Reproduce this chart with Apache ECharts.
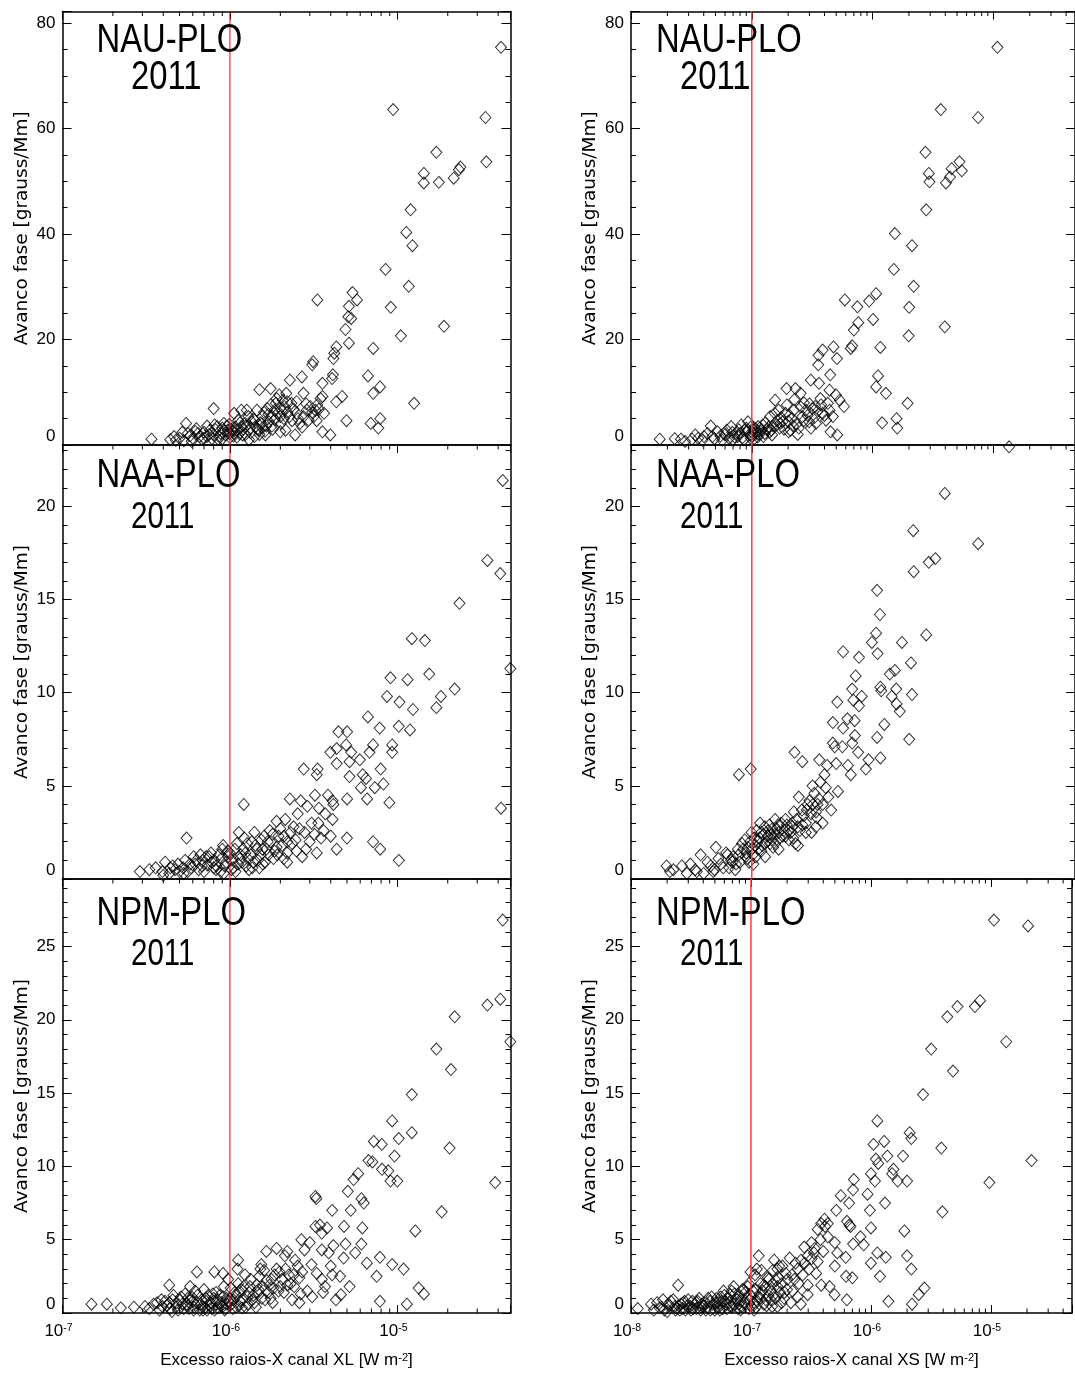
<!DOCTYPE html>
<html><head><meta charset="utf-8">
<script src="https://cdn.jsdelivr.net/npm/echarts@6/dist/echarts.min.js"></script>
<style>html,body{margin:0;padding:0;background:#fff}#c{width:1075px;height:1373px}</style>
</head><body><div id="c"></div><script>
// ---------------- data ----------------
const stations = ['NAU-PLO', 'NAA-PLO', 'NPM-PLO'];
const yearLabel = '2011';
const yName = 'Avanco fase [grauss/Mm]';
const xNames = ['Excesso raios-X canal XL [W m{s|-2}]', 'Excesso raios-X canal XS [W m{s|-2}]'];
const yMax = [82.2, 23.3, 29.6];
const yMajor = [20, 5, 5];
const yMinor = [5, 1, 1];
const xMin = [1e-7, 1e-8];
const xMax = 4.74e-5;
const thresholds = [1e-6, 1e-7];
const minorMultipliers = [2, 3, 4, 5, 6, 7, 8, 9];

const nauXL = [[4.16e-5,75.4],[9.44e-6,63.6],[3.36e-5,62.1],[1.71e-5,55.5],[3.4e-5,53.7],[1.44e-5,51.5],[1.44e-5,49.7],[1.77e-5,49.8],[2.17e-5,50.6],[2.33e-5,52.2],[2.38e-5,52.7],[1.2e-5,44.6],[1.13e-5,40.3],[1.23e-5,37.8],[8.5e-6,33.3],[1.17e-5,30.1],[9.14e-6,26.1],[1.9e-5,22.5],[1.05e-5,20.7],[3.33e-6,27.5],[5.4e-6,28.9],[5.74e-6,27.5],[5.14e-6,26.3],[5.09e-6,24.3],[5.3e-6,24.0],[4.9e-6,21.9],[5.14e-6,19.3],[4.32e-6,18.6],[4.2e-6,17.4],[4.15e-6,16.4],[7.18e-6,18.3],[6.68e-6,13.1],[7.88e-6,11.0],[7.18e-6,9.8],[1.26e-5,7.9],[7.9e-6,5.0],[6.93e-6,4.1],[7.7e-6,3.2],[4.97e-6,4.6],[4.68e-6,9.2],[4.32e-6,8.2],[4.12e-6,13.3],[4.08e-6,12.6],[3.57e-6,11.7],[3.57e-6,9.2],[3.57e-6,2.5],[3.98e-6,1.9],[3.14e-6,15.8],[3.1e-6,15.2],[2.69e-6,12.9],[2.28e-6,12.3],[2.75e-6,9.8],[2.5e-6,8.2],[2.45e-6,1.9],[2.15e-6,2.8],[1.75e-6,10.7],[1.5e-6,10.5],[8.0e-7,6.9],[5.47e-7,4.1],[3.4e-7,1.1],[4.64e-7,1.6],[7.3e-7,3.6],[5.6e-7,2.2],[6.45e-7,2.2],[6.6e-7,1.6],[7.6e-7,2.8],[8.4e-7,3.5],[8.8e-7,2.2],[9.2e-7,4.1],[9.7e-7,2.8],[1.06e-6,2.2],[1.12e-6,4.7],[1.17e-6,3.5],[1.23e-6,4.1],[1.26e-6,6.6],[1.35e-6,4.4],[1.42e-6,3.5],[1.45e-6,6.6],[1.48e-6,2.8],[1.56e-6,5.4],[1.63e-6,1.9],[1.67e-6,6.9],[1.71e-6,4.4],[1.79e-6,5.4],[1.88e-6,7.9],[1.93e-6,6.0],[1.97e-6,9.5],[2.02e-6,4.1],[2.07e-6,8.5],[2.12e-6,7.3],[2.17e-6,9.8],[2.27e-6,5.4],[2.33e-6,7.9],[2.5e-6,6.0],[2.62e-6,4.1],[2.75e-6,5.4],[2.88e-6,6.6],[2.95e-6,4.7],[3.02e-6,7.3],[3.17e-6,5.4],[3.24e-6,6.6],[3.32e-6,7.6],[3.48e-6,8.8],[3.65e-6,6.0],[1.06e-6,6.0],[1.17e-6,6.6],[1.29e-6,5.4],[1.56e-6,3.2],[9.9e-7,2.2],[7.3e-7,1.6],[8.0e-7,1.9],[6.0e-7,1.3],[4.75e-7,0.9],[1.1e-6,1.5],[1.3e-6,1.0],[9.0e-7,1.2],[1.5e-6,2.0],[1.8e-6,3.0],[2.0e-6,2.5],
[5.0e-7,1.3],[5.3e-7,0.8],[5.8e-7,1.8],[6.2e-7,2.6],[6.8e-7,1.1],[7.0e-7,2.4],[7.8e-7,1.2],[8.2e-7,2.9],[8.6e-7,1.6],[9.0e-7,3.2],[9.4e-7,1.9],[9.6e-7,3.6],[1.0e-6,1.4],[1.02e-6,3.0],[1.04e-6,2.6],[1.08e-6,3.4],[1.14e-6,2.2],[1.2e-6,3.0],[1.24e-6,2.0],[1.32e-6,3.2],[1.38e-6,5.0],[1.4e-6,1.6],[1.52e-6,4.2],[1.6e-6,6.2],[1.65e-6,3.6],[1.75e-6,7.6],[1.85e-6,4.8],[1.9e-6,8.8],[2.0e-6,7.0],[2.05e-6,6.4],[2.1e-6,5.0],[2.2e-6,8.2],[2.4e-6,6.8],[2.55e-6,5.0],[2.7e-6,3.4],[2.85e-6,7.8],[3.1e-6,6.2],[3.3e-6,4.6],[3.4e-6,6.8],
[4.4e-7,1.0],[5.2e-7,2.4],[5.9e-7,0.7],[6.3e-7,3.1],[7.0e-7,1.3],[7.5e-7,2.0],[8.1e-7,3.8],[8.5e-7,1.1],[9.3e-7,2.7],[9.9e-7,3.9],[1.05e-6,1.7],[1.1e-6,2.8],[1.15e-6,4.2],[1.19e-6,1.9],[1.25e-6,3.6],[1.33e-6,2.3],[1.4e-6,4.8],[1.46e-6,3.0],[1.55e-6,4.0],[1.62e-6,2.6],[1.7e-6,5.8],[1.78e-6,3.6],[1.85e-6,6.6],[2.0e-6,5.4],[2.2e-6,6.2],[2.35e-6,4.6]];

const nauXS = [[1.08e-5,75.4],[3.67e-6,63.6],[7.48e-6,62.1],[2.74e-6,55.5],[2.92e-6,51.5],[2.96e-6,49.9],[4.05e-6,49.7],[4.37e-6,50.8],[4.51e-6,52.4],[5.24e-6,53.7],[5.48e-6,52.0],[2.78e-6,44.6],[1.53e-6,40.1],[2.12e-6,37.8],[1.5e-6,33.3],[2.19e-6,30.1],[2.01e-6,26.1],[3.96e-6,22.4],[1.99e-6,20.7],[5.89e-7,27.5],[7.48e-7,26.2],[9.37e-7,27.3],[1.07e-6,28.7],[1.01e-6,23.8],[7.62e-7,23.2],[7.0e-7,21.8],[6.78e-7,18.8],[6.6e-7,18.3],[1.16e-6,18.5],[1.11e-6,13.1],[1.07e-6,11.0],[1.29e-6,9.8],[1.95e-6,7.9],[1.2e-6,4.2],[1.58e-6,5.0],[1.6e-6,3.2],[4.75e-7,18.6],[5.07e-7,16.4],[3.86e-7,18.0],[3.57e-7,17.0],[3.55e-7,15.2],[3.6e-7,11.7],[4.46e-7,13.3],[4.4e-7,10.4],[3.08e-7,12.3],[1.94e-7,10.7],[2.3e-7,10.7],[2.54e-7,9.8],[1.56e-7,8.5],[4.97e-7,9.5],[5.8e-7,7.3],[4.49e-7,2.5],[5.1e-7,1.9],[4.12e-7,4.7],[3.35e-7,7.3],[3.75e-7,7.6],[2.02e-7,2.5],[2.45e-7,3.2],[3.08e-7,3.2],[1.73e-8,1.1],[2.59e-8,1.1],[3.2e-8,1.1],[4.57e-8,3.6],[4.02e-8,1.6],[5.2e-8,2.5],[6.74e-8,3.5],[8.18e-8,3.8],[9.31e-8,4.4],[5.92e-8,2.2],[7.43e-8,2.2],[8.73e-8,2.8],[1.03e-7,2.8],[1.13e-7,3.5],[1.25e-7,1.6],[1.42e-7,5.4],[1.47e-7,1.9],[1.67e-7,6.6],[1.72e-7,4.1],[1.9e-7,6.0],[2.09e-7,2.8],[2.23e-7,6.6],[2.62e-7,5.4],[2.8e-7,6.6],[2.98e-7,4.4],[3.18e-7,6.9],[3.4e-7,4.1],[3.86e-7,6.0],[4.26e-7,7.9],[4.69e-7,5.4],[5.34e-7,8.5],[4.72e-8,1.6],[7.67e-8,1.6],[9.94e-8,1.6],[3.6e-8,1.3],[6.5e-8,1.3],[1.1e-7,2.2],[1.35e-7,3.0],[1.6e-7,3.8],[2.0e-7,4.5],[2.4e-7,2.0],[2.7e-7,8.0],
[5.5e-8,1.7],[6.2e-8,2.8],[7.0e-8,1.0],[7.8e-8,2.9],[8.4e-8,1.4],[9.0e-8,3.2],[9.6e-8,2.0],[1.0e-7,3.6],[1.05e-7,1.2],[1.08e-7,2.5],[1.15e-7,2.0],[1.2e-7,3.0],[1.3e-7,4.2],[1.4e-7,2.4],[1.5e-7,3.6],[1.55e-7,6.0],[1.75e-7,5.2],[1.85e-7,3.0],[1.95e-7,7.6],[2.15e-7,5.0],[2.25e-7,8.6],[2.35e-7,4.0],[2.55e-7,7.2],[2.7e-7,4.6],[2.9e-7,5.6],[3.0e-7,7.8],[3.3e-7,5.2],[3.5e-7,6.4],[3.7e-7,8.8],[4.0e-7,5.6],[4.4e-7,6.6],
[2.3e-8,1.2],[2.8e-8,0.7],[3.4e-8,1.9],[3.9e-8,0.9],[4.3e-8,2.2],[4.9e-8,1.2],[5.7e-8,0.9],[6.0e-8,1.9],[6.9e-8,2.4],[7.2e-8,1.5],[8.0e-8,2.2],[8.6e-8,1.0],[9.2e-8,2.6],[9.8e-8,1.3],[1.02e-7,2.2],[1.06e-7,3.2],[1.12e-7,1.5],[1.18e-7,2.6],[1.23e-7,3.8],[1.28e-7,2.2],[1.38e-7,3.4],[1.45e-7,2.8],[1.62e-7,4.6],[1.7e-7,3.2],[1.8e-7,4.4],[2.05e-7,5.6],[2.2e-7,3.6]];

const naaXL = [[4.26e-5,21.4],[3.45e-5,17.1],[4.12e-5,16.4],[2.35e-5,14.8],[1.22e-5,12.9],[1.46e-5,12.8],[1.55e-5,11.0],[9.1e-6,10.8],[1.15e-5,10.7],[2.2e-5,10.2],[8.67e-6,9.8],[1.82e-5,9.8],[1.03e-5,9.5],[1.24e-5,9.1],[1.71e-5,9.2],[1.02e-5,8.2],[1.19e-5,8.0],[6.67e-6,8.7],[7.84e-6,8.1],[4.45e-6,7.9],[5.01e-6,7.9],[9.31e-6,7.2],[9.31e-6,6.8],[7.16e-6,7.2],[4.34e-6,7.0],[3.98e-6,6.8],[4.94e-6,7.2],[5.3e-6,6.8],[6.82e-6,6.8],[5.97e-6,6.4],[5.18e-6,6.3],[4.34e-6,6.2],[6.21e-6,5.6],[5.18e-6,5.5],[7.95e-6,5.9],[6.5e-6,5.4],[6.06e-6,4.9],[7.33e-6,4.9],[8.26e-6,5.1],[6.6e-6,4.3],[5.01e-6,4.3],[8.96e-6,4.1],[2.76e-6,5.9],[3.34e-6,5.9],[3.3e-6,5.6],[2.28e-6,4.3],[2.65e-6,4.2],[3.22e-6,4.5],[3.85e-6,4.5],[4.1e-6,4.2],[4.15e-6,4.0],[4.1e-6,3.2],[4.0e-6,2.3],[5.0e-6,2.2],[4.34e-6,1.6],[7.16e-6,2.0],[7.9e-6,1.6],[1.02e-5,1.0],[4.16e-5,3.8],[3.3e-6,1.4],[2.7e-6,1.2],[3.5e-6,2.2],[3.07e-6,3.0],[2.9e-6,3.9],[2.54e-6,3.5],[2.4e-6,2.8],[2.2e-6,0.9],[1.9e-6,3.1],[1.73e-6,2.6],[1.21e-6,4.0],[5.51e-7,2.2],[2.9e-7,0.4],[3.3e-7,0.5],[3.95e-7,0.4],[4.55e-7,0.7],[5.01e-7,0.4],[5.78e-7,0.8],[6.67e-7,1.3],[7.33e-7,0.75],[8.07e-7,1.0],[9.1e-7,1.8],[9.77e-7,1.2],[1.07e-6,1.6],[1.13e-6,2.5],[1.18e-6,0.9],[1.27e-6,1.9],[1.33e-6,1.3],[1.4e-6,2.5],[1.47e-6,1.0],[1.54e-6,2.1],[1.65e-6,1.6],[1.82e-6,1.1],[1.95e-6,2.3],[2.05e-6,1.8],[2.14e-6,3.2],[2.2e-6,1.4],[2.3e-6,2.5],[2.47e-6,2.1],[2.79e-6,2.5],[2.99e-6,2.0],[3.37e-6,3.0],[3.71e-6,3.5],[3.63e-6,2.6],[9.3e-7,0.7],[1.02e-6,0.5],[1.12e-6,0.8],[1.3e-6,0.5],[1.57e-6,0.8],[9.0e-7,1.6],[7.7e-7,1.4],[6.07e-7,1.2],[4.34e-7,0.3],[5.25e-7,0.6],[6.5e-7,0.5],[8.26e-7,0.5],[1.24e-6,1.4],[1.56e-6,1.6],[1.9e-6,1.7],[2.2e-6,2.0],[4.73e-5,11.3],
[3.6e-7,0.6],[4.1e-7,0.9],[4.7e-7,0.5],[5.4e-7,1.0],[5.6e-7,0.4],[6.2e-7,0.8],[6.9e-7,1.0],[7.0e-7,0.4],[7.5e-7,1.2],[8.0e-7,0.6],[8.6e-7,1.3],[8.8e-7,0.4],[9.5e-7,0.9],[1.0e-6,1.4],[1.05e-6,0.6],[1.1e-6,1.9],[1.15e-6,1.1],[1.2e-6,1.6],[1.25e-6,0.7],[1.35e-6,2.0],[1.38e-6,0.9],[1.45e-6,1.6],[1.5e-6,0.6],[1.6e-6,2.3],[1.7e-6,1.3],[1.75e-6,2.0],[1.85e-6,1.5],[2.0e-6,2.7],[2.1e-6,1.1],[2.35e-6,1.9],[2.6e-6,2.7],[2.85e-6,1.6],[3.2e-6,2.4],[3.4e-6,3.8],
[4.0e-7,0.2],[4.4e-7,0.6],[4.9e-7,0.8],[5.3e-7,0.3],[5.9e-7,0.6],[6.3e-7,1.0],[6.8e-7,0.7],[7.2e-7,1.2],[7.8e-7,0.9],[8.3e-7,0.7],[8.9e-7,1.1],[9.2e-7,0.3],[9.7e-7,1.5],[1.03e-6,1.0],[1.08e-6,0.4],[1.16e-6,1.3],[1.22e-6,2.2],[1.28e-6,1.1],[1.36e-6,0.6],[1.42e-6,1.8],[1.52e-6,1.3],[1.62e-6,0.9],[1.68e-6,2.0],[1.8e-6,2.4],[1.92e-6,1.3],[2.1e-6,2.3],[2.5e-6,1.5]];

const naaXS = [[3.96e-6,20.7],[2.17e-6,18.7],[7.48e-6,18.0],[3.31e-6,17.2],[2.92e-6,17.0],[2.19e-6,16.5],[1.09e-6,15.5],[1.15e-6,14.2],[1.07e-6,13.2],[2.78e-6,13.1],[9.87e-7,12.7],[1.75e-6,12.7],[1.1e-6,12.1],[5.7e-7,12.2],[7.72e-7,11.9],[2.08e-6,11.6],[1.39e-6,11.0],[1.53e-6,11.2],[7.24e-7,10.9],[1.16e-6,10.3],[6.78e-7,10.2],[1.18e-6,10.1],[1.57e-6,10.2],[1.44e-6,9.8],[2.12e-6,9.9],[8.13e-7,9.8],[6.92e-7,9.6],[5.1e-7,9.5],[7.72e-7,9.3],[1.58e-6,9.4],[1.68e-6,9.0],[4.69e-7,8.4],[6.19e-7,8.6],[7.1e-7,8.5],[1.25e-6,8.3],[5.7e-7,8.1],[7.14e-7,7.7],[1.09e-6,7.6],[2.01e-6,7.5],[4.69e-7,7.3],[6.78e-7,7.3],[5.62e-7,7.1],[4.85e-7,7.1],[7.6e-7,6.8],[2.26e-7,6.8],[2.62e-7,6.3],[1.16e-6,6.5],[9.26e-7,6.4],[3.62e-7,6.4],[4.2e-7,6.1],[5.0e-7,6.2],[8.8e-7,5.9],[6.25e-7,6.1],[6.6e-7,5.6],[5.17e-7,4.7],[7.82e-8,5.6],[9.8e-8,5.9],[4.1e-7,4.9],[3.18e-7,5.0],[2.45e-7,4.4],[3.0e-7,4.2],[3.6e-7,4.3],[4.54e-7,3.7],[3.12e-7,2.5],[2.41e-7,1.8],[2.23e-7,3.6],[3.4e-7,3.6],[3.86e-7,4.0],[3.45e-7,3.3],[2.85e-7,3.7],[2.62e-7,2.9],[2.16e-7,2.8],[1.9e-7,3.2],[1.67e-7,2.5],[1.56e-7,3.2],[1.47e-7,2.1],[1.29e-7,1.9],[1.17e-7,3.0],[1.13e-7,1.6],[9.94e-8,2.5],[8.73e-8,2.1],[8.9e-8,1.2],[7.67e-8,1.6],[6.74e-8,1.0],[6.12e-8,1.4],[5.04e-8,1.7],[5.55e-8,0.8],[4.57e-8,0.7],[3.77e-8,1.3],[3.1e-8,0.8],[2.64e-8,0.7],[2.24e-8,0.5],[1.97e-8,0.7],[2.1e-8,0.4],[2.9e-8,0.3],[3.5e-8,0.4],[4.0e-8,0.3],[4.9e-8,0.5],[7.4e-8,0.8],[1.03e-7,0.8],[1.29e-7,1.2],[1.67e-7,1.6],[1.9e-7,2.3],[2.3e-7,1.9],[2.8e-7,2.5],[3.4e-7,2.8],[3.86e-7,3.0],[1.2e-7,2.5],[1.56e-7,1.9],[1.37e-7,2.6],[2.03e-7,2.1],[9.3e-8,1.7],[1.35e-5,23.2],
[6.5e-8,0.6],[7.0e-8,1.2],[8.0e-8,0.9],[8.3e-8,1.9],[9.0e-8,1.4],[9.5e-8,0.9],[1.0e-7,1.6],[1.05e-7,2.2],[1.08e-7,1.2],[1.12e-7,2.0],[1.2e-7,1.5],[1.25e-7,2.4],[1.32e-7,2.0],[1.4e-7,2.9],[1.45e-7,2.4],[1.5e-7,1.7],[1.6e-7,2.7],[1.7e-7,2.2],[1.75e-7,3.0],[1.85e-7,2.6],[1.95e-7,2.9],[2.1e-7,2.5],[2.2e-7,2.2],[2.35e-7,3.2],[2.5e-7,2.6],[2.7e-7,3.4],[2.9e-7,4.0],[3.1e-7,3.5],[3.3e-7,4.6],[3.5e-7,4.0],[3.7e-7,5.2],[4.0e-7,5.6],[4.3e-7,4.4],
[3.4e-8,0.5],[4.3e-8,0.9],[4.8e-8,0.4],[5.3e-8,1.1],[5.8e-8,0.6],[6.3e-8,1.3],[6.9e-8,0.9],[7.3e-8,0.5],[7.8e-8,1.3],[8.5e-8,1.6],[9.2e-8,1.1],[9.7e-8,2.0],[1.02e-7,1.3],[1.06e-7,1.8],[1.1e-7,2.6],[1.16e-7,2.2],[1.22e-7,1.8],[1.28e-7,2.8],[1.35e-7,2.3],[1.42e-7,1.9],[1.48e-7,2.7],[1.55e-7,2.4],[1.65e-7,2.9],[1.8e-7,2.3],[2.0e-7,2.6],[2.15e-7,3.0],[2.4e-7,2.8],[2.6e-7,3.7],[2.8e-7,3.0],[3.2e-7,4.0]];

const npmXL = [[4.26e-5,26.8],[3.45e-5,21.0],[4.12e-5,21.4],[2.2e-5,20.2],[1.71e-5,18.0],[2.09e-5,16.6],[1.22e-5,14.9],[9.31e-6,13.1],[1.22e-5,12.3],[1.02e-5,11.9],[2.05e-5,11.25],[7.23e-6,11.7],[8.07e-6,11.5],[9.62e-6,10.7],[6.73e-6,10.4],[7.1e-6,10.3],[8.1e-6,9.8],[8.83e-6,9.7],[9.1e-6,9.0],[1.0e-5,9.0],[5.83e-6,9.5],[5.48e-6,9.1],[6.1e-6,7.8],[6.3e-6,7.5],[5.06e-6,8.3],[3.84e-5,8.9],[1.84e-5,6.9],[1.28e-5,5.6],[1.34e-5,1.7],[1.44e-5,1.3],[1.09e-5,3.0],[9.31e-6,3.3],[1.14e-5,0.6],[7.87e-6,0.8],[7.52e-6,2.5],[7.87e-6,3.8],[6.58e-6,3.4],[6.18e-6,5.8],[6.1e-6,4.7],[5.6e-6,4.1],[5.18e-6,1.8],[4.6e-6,1.25],[4.3e-6,0.9],[4.78e-6,3.75],[4.9e-6,4.7],[4.8e-6,5.9],[5.27e-6,7.0],[4.08e-6,7.0],[4.15e-6,4.6],[4.55e-6,2.5],[4.08e-6,2.6],[3.24e-6,7.95],[3.28e-6,7.8],[3.24e-6,5.9],[3.54e-6,5.45],[3.8e-6,5.8],[3.54e-6,4.3],[3.89e-6,4.1],[3.7e-6,1.8],[3.54e-6,2.3],[3.1e-6,1.1],[3.07e-6,3.3],[2.79e-6,4.3],[2.67e-6,5.0],[2.6e-6,2.4],[2.6e-6,0.7],[2.35e-6,0.9],[2.2e-6,4.2],[2.13e-6,3.9],[1.9e-6,4.4],[2.0e-6,1.8],[1.8e-6,0.7],[1.65e-6,4.2],[1.54e-6,3.3],[1.47e-6,1.4],[1.12e-6,3.6],[1.11e-6,3.0],[8.07e-7,2.8],[6.35e-7,2.8],[9.1e-7,2.7],[5.78e-7,1.8],[4.34e-7,1.9],[1.49e-7,0.6],[1.84e-7,0.6],[2.23e-7,0.35],[2.67e-7,0.4],[3.11e-7,0.45],[3.67e-7,0.7],[3.95e-7,0.45],[4.34e-7,0.7],[4.77e-7,0.45],[5.01e-7,0.9],[5.51e-7,0.6],[5.92e-7,1.1],[6.35e-7,0.7],[6.82e-7,0.45],[7.16e-7,1.0],[7.69e-7,0.7],[8.26e-7,1.4],[8.87e-7,0.7],[9.53e-7,1.0],[1.02e-6,0.6],[1.07e-6,1.4],[1.15e-6,0.8],[1.21e-6,1.8],[1.27e-6,1.1],[1.33e-6,2.3],[1.4e-6,0.7],[1.5e-6,2.5],[1.57e-6,1.8],[1.69e-6,1.4],[1.77e-6,2.3],[1.9e-6,3.0],[2.05e-6,2.3],[2.1e-6,1.4],[2.25e-6,2.6],[2.42e-6,1.8],[2.54e-6,3.2],[7.3e-7,0.2],[9.3e-7,0.2],[1.18e-6,0.35],[6.07e-7,0.2],[8.5e-7,0.35],[4.55e-7,0.9],[9.76e-7,2.3],[7.0e-7,1.6],[5.6e-7,1.0],[1.12e-6,2.0],[4.73e-5,18.5],
[3.8e-7,0.2],[4.1e-7,0.8],[4.4e-7,0.3],[4.6e-7,1.2],[4.9e-7,0.2],[5.2e-7,0.6],[5.4e-7,1.3],[5.7e-7,0.3],[6.0e-7,0.8],[6.2e-7,1.5],[6.6e-7,0.2],[6.8e-7,0.9],[7.1e-7,0.4],[7.4e-7,1.2],[7.8e-7,0.3],[8.0e-7,1.0],[8.3e-7,0.6],[8.7e-7,1.2],[9.0e-7,0.4],[9.2e-7,1.8],[9.6e-7,0.6],[1.0e-6,1.0],[1.04e-6,0.3],[1.1e-6,1.2],[1.13e-6,0.5],[1.17e-6,1.6],[1.24e-6,0.4],[1.3e-6,1.4],[1.36e-6,0.9],[1.45e-6,1.9],[1.55e-6,1.0],[1.6e-6,2.9],[1.72e-6,1.9],[1.85e-6,2.6],[1.95e-6,1.5],[2.15e-6,3.0],[2.3e-6,2.0],[2.45e-6,3.6],[2.7e-6,2.8],[2.9e-6,1.5],[3.0e-6,4.8],[3.3e-6,2.7],[3.45e-6,6.0],[3.6e-6,1.4],[4.0e-6,3.2],
[3.3e-7,0.3],[3.5e-7,0.6],[3.9e-7,0.9],[4.2e-7,0.5],[4.5e-7,0.1],[4.8e-7,0.7],[5.1e-7,1.1],[5.3e-7,0.3],[5.6e-7,0.5],[5.8e-7,0.9],[6.1e-7,0.4],[6.4e-7,1.2],[6.7e-7,0.6],[6.9e-7,0.2],[7.2e-7,0.8],[7.6e-7,0.5],[7.9e-7,1.3],[8.1e-7,0.2],[8.4e-7,0.9],[8.9e-7,0.5],[9.1e-7,1.1],[9.4e-7,0.3],[9.8e-7,0.8],[1.01e-6,1.7],[1.05e-6,0.9],[1.09e-6,0.4],[1.14e-6,1.5],[1.19e-6,0.9],[1.23e-6,2.6],[1.28e-6,0.6],[1.32e-6,1.8],[1.38e-6,1.2],[1.43e-6,0.4],[1.48e-6,1.6],[1.52e-6,3.0],[1.62e-6,0.9],[1.66e-6,2.2],[1.75e-6,1.0],[1.82e-6,1.7],[1.98e-6,2.8],[2.2e-6,1.9],[2.4e-6,2.6],[2.65e-6,1.3]];

const npmXS = [[1.06e-5,26.8],[2.04e-5,26.4],[7.36e-6,20.9],[8.11e-6,21.3],[5.26e-6,20.9],[4.33e-6,20.2],[1.34e-5,18.5],[3.18e-6,18.0],[4.83e-6,16.5],[2.72e-6,14.9],[1.13e-6,13.1],[2.1e-6,12.3],[2.17e-6,11.9],[3.86e-6,11.25],[1.05e-6,11.5],[1.29e-6,11.7],[1.37e-6,10.7],[1.85e-6,10.7],[1.1e-6,10.5],[1.15e-6,10.2],[2.18e-5,10.4],[1.54e-6,9.8],[1.5e-6,9.5],[1.0e-6,9.5],[1.08e-6,9.0],[1.67e-6,9.0],[2.0e-6,9.0],[9.71e-6,8.9],[7.2e-7,9.1],[7.1e-7,8.4],[9.37e-7,8.1],[6.58e-7,7.5],[5.6e-7,8.0],[9.8e-7,7.0],[1.31e-6,7.5],[3.94e-6,6.9],[5.14e-7,7.0],[4.37e-7,6.1],[4.15e-7,5.9],[6.32e-7,6.25],[6.6e-7,6.0],[6.75e-7,5.9],[8.18e-7,5.2],[8.7e-7,4.65],[7.1e-7,4.7],[1.0e-6,5.8],[1.9e-6,5.6],[1.33e-6,3.8],[1.13e-6,4.1],[1.0e-6,3.4],[1.19e-6,2.5],[2.0e-6,3.9],[2.17e-6,3.0],[1.4e-6,0.8],[2.2e-6,0.6],[2.5e-6,1.25],[2.79e-6,1.7],[6.16e-7,3.8],[5.24e-7,4.1],[5.0e-7,3.2],[4.52e-7,1.8],[4.98e-7,1.25],[6.3e-7,0.9],[6.2e-7,2.5],[7.0e-7,2.4],[5.0e-7,4.8],[4.37e-7,5.2],[3.85e-7,6.1],[4.1e-7,6.4],[3.6e-7,5.7],[3.49e-7,2.7],[3.85e-7,1.9],[2.97e-7,1.25],[2.97e-7,1.9],[2.97e-7,3.9],[3.2e-7,4.8],[3.35e-7,4.1],[2.78e-7,4.5],[2.61e-7,3.6],[2.45e-7,3.0],[2.22e-7,1.5],[2.01e-7,2.3],[2.1e-7,3.75],[1.83e-7,3.2],[1.66e-7,3.0],[1.56e-7,3.6],[1.8e-7,0.7],[1.55e-7,1.25],[1.41e-7,2.3],[1.32e-7,1.8],[1.16e-7,3.9],[1.12e-7,3.0],[9.9e-8,2.8],[9.6e-8,2.0],[8.7e-8,1.6],[7.17e-8,1.8],[6.72e-8,1.25],[5.91e-8,1.5],[5.19e-8,1.0],[2.47e-8,1.9],[1.14e-8,0.3],[1.47e-8,0.6],[1.73e-8,0.35],[2.04e-8,0.6],[2.32e-8,0.45],[2.72e-8,0.7],[3.1e-8,0.45],[3.52e-8,0.7],[4.01e-8,0.45],[4.56e-8,0.8],[5.19e-8,0.45],[5.99e-8,0.8],[6.72e-8,0.45],[7.65e-8,0.9],[8.43e-8,0.45],[9.29e-8,1.0],[1.06e-7,0.7],[1.16e-7,1.1],[1.28e-7,0.6],[1.46e-7,0.9],[1.66e-7,0.45],[1.89e-7,1.0],[2.15e-7,0.7],[2.45e-7,1.1],[2.6e-7,0.6],[1.85e-8,0.9],[2.55e-8,0.2],[3.8e-8,0.2],[5.5e-8,0.2],[8.2e-8,0.2],[1.06e-7,0.2],[1.5e-7,0.45],[1.2e-7,2.0],[1.66e-7,1.8],[2.3e-7,2.3],
[1.9e-8,0.2],[2.15e-8,0.8],[2.4e-8,0.3],[2.6e-8,0.6],[2.85e-8,0.2],[3.0e-8,0.9],[3.3e-8,0.3],[3.4e-8,0.6],[3.7e-8,1.0],[3.9e-8,0.6],[4.2e-8,0.2],[4.4e-8,1.0],[4.8e-8,0.6],[5.0e-8,0.2],[5.3e-8,0.7],[5.6e-8,1.1],[5.8e-8,0.3],[6.2e-8,0.6],[6.5e-8,1.0],[7.0e-8,0.4],[7.3e-8,1.3],[7.9e-8,0.6],[8.0e-8,1.2],[8.8e-8,0.7],[9.0e-8,1.4],[9.6e-8,0.3],[1.0e-7,1.2],[1.1e-7,0.4],[1.1e-7,1.6],[1.2e-7,1.0],[1.25e-7,1.5],[1.35e-7,0.5],[1.4e-7,1.2],[1.5e-7,2.0],[1.6e-7,1.0],[1.7e-7,2.4],[1.75e-7,1.4],[1.95e-7,2.7],[2.0e-7,1.6],[2.2e-7,2.6],[2.35e-7,3.4],[2.5e-7,2.0],[2.7e-7,2.6],[2.8e-7,3.4],[3.05e-7,3.0],[3.2e-7,3.7],[3.4e-7,4.4],[3.6e-7,3.5],[3.8e-7,5.0],[4.0e-7,4.2],
[1.55e-8,0.2],[1.65e-8,0.7],[1.8e-8,0.4],[2.0e-8,0.1],[2.1e-8,0.5],[2.25e-8,0.9],[2.35e-8,0.2],[2.5e-8,0.5],[2.7e-8,0.3],[2.8e-8,0.8],[2.95e-8,0.5],[3.15e-8,0.2],[3.25e-8,0.8],[3.5e-8,0.3],[3.6e-8,0.8],[3.85e-8,0.4],[4.1e-8,0.7],[4.3e-8,0.4],[4.6e-8,0.2],[4.7e-8,1.1],[5.1e-8,0.7],[5.4e-8,0.4],[5.7e-8,0.8],[6.0e-8,1.2],[6.3e-8,0.3],[6.6e-8,0.7],[6.9e-8,1.5],[7.2e-8,0.6],[7.5e-8,1.0],[7.8e-8,0.3],[8.2e-8,0.8],[8.5e-8,1.6],[9.1e-8,0.6],[9.4e-8,1.8],[9.8e-8,0.9],[1.02e-7,0.4],[1.04e-7,1.5],[1.08e-7,2.6],[1.13e-7,0.8],[1.18e-7,1.3],[1.22e-7,2.9],[1.28e-7,1.9],[1.33e-7,0.9],[1.38e-7,2.4],[1.45e-7,1.6],[1.52e-7,2.9],[1.62e-7,2.2],[1.72e-7,3.2],[1.8e-7,2.0],[1.9e-7,1.4]];

// ---------------- layout / style ----------------
const SANS = '"Liberation Sans", Arial, Helvetica, sans-serif';
const colLeft = [62.5, 631], colWidth = [448, 446];
const rowTop = [11.5, 445, 879], rowHeight = [433.5, 434, 434];
const panels = [
  {row: 0, col: 0, data: nauXL}, {row: 0, col: 1, data: nauXS},
  {row: 1, col: 0, data: naaXL}, {row: 1, col: 1, data: naaXS},
  {row: 2, col: 0, data: npmXL}, {row: 2, col: 1, data: npmXS}
];
const titleY = [40.5, 476, 914];
const yearY = [77.5, 518, 955];
const titleX = [[96.5, 131], [656, 680]];
const yearSize = [40, 36, 36];
const redStyle = [{stroke: '#ff0000', lineWidth: 1}, {stroke: '#ff3c3c', lineWidth: 1.5}];

const chart = echarts.init(document.getElementById('c'), null, {renderer: 'canvas', width: 1075, height: 1373});
const grids = [], xAxes = [], yAxes = [], series = [], graphics = [];
const black = '#000';

function minorValues(min) {
  const out = [];
  for (let e = Math.round(Math.log10(min)); e < -3; e++) {
    minorMultipliers.forEach(m => { const v = m * Math.pow(10, e); if (v > min && v < xMax) out.push([v, 0]); });
  }
  return out;
}

panels.forEach((p, g) => {
  const bottomRow = p.row === 2;
  grids.push({left: colLeft[p.col], top: rowTop[p.row], width: colWidth[p.col], height: rowHeight[p.row]});
  const xb = {
    type: 'log', logBase: 10, min: xMin[p.col], max: xMax, gridIndex: g,
    splitLine: {show: false}, minorTick: {show: false},
    axisLine: {show: true, onZero: false, lineStyle: {color: black, width: 1.5}}
  };
  xAxes.push(Object.assign({}, xb, {
    position: 'bottom',
    axisTick: {show: bottomRow, inside: true, length: 8, lineStyle: {color: black, width: 1}},
    axisLabel: {
      show: bottomRow, margin: 10, color: black,
      formatter: v => { const e = Math.log10(v); const r = Math.round(e); return Math.abs(e - r) < 1e-6 ? '{b|10}{s|' + r + '}' : ''; },
      rich: {
        b: {fontFamily: SANS, fontSize: 17, color: black},
        s: {fontFamily: SANS, fontSize: 10.5, color: black, verticalAlign: 'top', padding: [0, 8, 0, 0]}
      }
    },
    name: bottomRow ? xNames[p.col] : '',
    nameLocation: 'middle', nameGap: 39,
    nameTextStyle: {fontFamily: SANS, fontSize: 17, color: black,
      rich: {s: {fontFamily: SANS, fontSize: 11, color: black, verticalAlign: 'top'}}}
  }));
  xAxes.push(Object.assign({}, xb, {
    position: 'top',
    axisTick: {show: true, inside: true, length: 8, lineStyle: {color: black, width: 1}},
    axisLabel: {show: false}
  }));
  const yb = {type: 'value', min: 0, max: yMax[p.row], gridIndex: g, splitLine: {show: false}};
  const major = yMajor[p.row];
  yAxes.push(Object.assign({}, yb, {
    position: 'left', interval: major,
    axisLine: {show: true, onZero: false, lineStyle: {color: black, width: 1.5}},
    axisTick: {show: true, inside: true, length: 9, lineStyle: {color: black, width: 1}},
    axisLabel: {
      show: true, margin: 7, color: black, fontFamily: SANS, fontSize: 17,
      verticalAlignMinLabel: 'bottom',
      formatter: v => (Math.abs(v / major - Math.round(v / major)) < 1e-9 ? String(v) : '')
    },
    name: yName, nameLocation: 'middle', nameGap: 31,
    nameTextStyle: {fontFamily: '"DejaVu Sans", sans-serif', fontSize: 18.5, color: black}
  }));
  yAxes.push(Object.assign({}, yb, {
    position: 'left', interval: yMinor[p.row],
    axisLine: {show: false, onZero: false},
    axisTick: {show: true, inside: true, length: 5, lineStyle: {color: black, width: 1}},
    axisLabel: {show: false}
  }));
  yAxes.push(Object.assign({}, yb, {
    position: 'right', interval: major,
    axisLine: {show: true, onZero: false, lineStyle: {color: black, width: 1.5}},
    axisTick: {show: true, inside: true, length: 9, lineStyle: {color: black, width: 1}},
    axisLabel: {show: false}
  }));
  yAxes.push(Object.assign({}, yb, {
    position: 'right', interval: yMinor[p.row],
    axisLine: {show: false, onZero: false},
    axisTick: {show: true, inside: true, length: 5, lineStyle: {color: black, width: 1}},
    axisLabel: {show: false}
  }));

  series.push({
    type: 'scatter', xAxisIndex: 2 * g, yAxisIndex: 4 * g, data: p.data,
    symbol: 'diamond', symbolSize: [11, 12],
    itemStyle: {color: 'rgba(255,255,255,0)', borderColor: black, borderWidth: 1},
    emphasis: {disabled: true}, silent: true, z: 2, large: false
  });
  // minor log ticks on the x axis
  series.push({
    type: 'custom', xAxisIndex: 2 * g, yAxisIndex: 4 * g, data: minorValues(xMin[p.col]),
    silent: true, clip: false, z: 3,
    renderItem: (params, api) => {
      const x = api.coord([api.value(0), 0])[0];
      const cs = params.coordSys;
      const st = {stroke: black, lineWidth: 1};
      const ch = [{type: 'line', shape: {x1: x, y1: cs.y, x2: x, y2: cs.y + 4.5}, style: st}];
      if (bottomRow) ch.push({type: 'line', shape: {x1: x, y1: cs.y + cs.height, x2: x, y2: cs.y + cs.height - 4.5}, style: st});
      return {type: 'group', children: ch};
    }
  });
  // red threshold line
  series.push({
    type: 'custom', xAxisIndex: 2 * g, yAxisIndex: 4 * g, data: [[thresholds[p.col], 0]],
    silent: true, clip: false, z: 5,
    renderItem: (params, api) => {
      const x = api.coord([api.value(0), 0])[0];
      const cs = params.coordSys;
      return {type: 'line', shape: {x1: x, y1: cs.y, x2: x, y2: cs.y + cs.height}, style: redStyle[p.col]};
    }
  });

  graphics.push({type: 'text', x: titleX[p.col][0], y: titleY[p.row], scaleX: 0.82, z: 10,
    style: {text: stations[p.row], fill: black, fontFamily: SANS, fontSize: 40, verticalAlign: 'middle', align: 'left'}});
  graphics.push({type: 'text', x: titleX[p.col][1], y: yearY[p.row], scaleX: 0.82, z: 10,
    style: {text: yearLabel, fill: black, fontFamily: SANS, fontSize: yearSize[p.row], verticalAlign: 'middle', align: 'left'}});
});

chart.setOption({
  animation: false,
  backgroundColor: '#fff',
  textStyle: {fontFamily: SANS, color: black},
  grid: grids, xAxis: xAxes, yAxis: yAxes, series: series,
  graphic: {elements: graphics}
});
</script></body></html>
